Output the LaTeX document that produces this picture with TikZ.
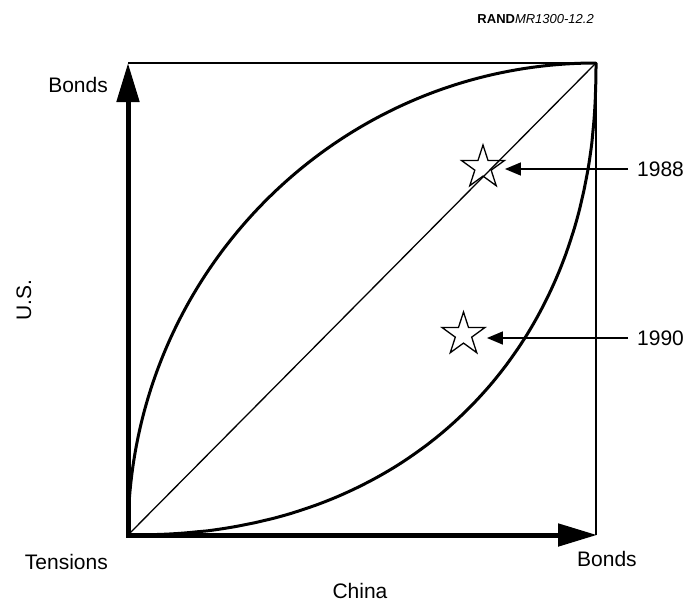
\documentclass[tikz,border=0pt]{standalone}
\usepackage{fontspec}
\setmainfont{Liberation Sans}
\usetikzlibrary{arrows.meta, shapes.geometric}

\begin{document}
\begin{tikzpicture}[x=1pt,y=-1pt,
  lbl/.style={inner sep=0pt, font=\fontsize{21}{25}\selectfont},
  axis/.style={line width=5, line cap=rect, -{Triangle[length=39pt,width=22pt]}},
  curve/.style={line width=3, line join=round},
  pointer/.style={line width=1.5, -{Triangle[length=16pt,width=13pt]}},
  markstar/.style={star, star points=5, star point ratio=2.618, minimum size=45pt, inner sep=0pt, draw, line width=1.3}
]
\useasboundingbox (0,0) rectangle (686,603);

\coordinate (O) at (128,535);
\coordinate (TL) at (128,63);
\coordinate (TR) at (596,63);
\coordinate (BR) at (597,535);

% frame and diagonal
\draw[line width=2] (TL) -- (TR) -- (596,535);
\draw[line width=1.3] (O) -- (TR);

% the two bounding curves
\draw[curve] (O) arc[start angle=180, end angle=270, x radius=468, y radius=472];
\draw[curve] (O) -- plot[domain=0.1:89.9, samples=80, smooth, variable=\t]
  ({128+468*sin(\t)^0.909}, {63+472*cos(\t)^0.909}) -- (TR);

% axes
\draw[axis] (O) -- (TL);
\draw[axis] (O) -- (BR);

% stars and years
\node[markstar] (s88) at (483,167.5) {};
\node[markstar] (s90) at (463.5,334.5) {};
\node[lbl, anchor=west, inner xsep=9pt] (y88) at (628,169) {1988};
\node[lbl, anchor=west, inner xsep=9pt] (y90) at (628,338) {1990};
\draw[pointer, shorten >=9pt] (y88.west) -- (s88.east |- y88.west);
\draw[pointer, shorten >=10.5pt] (y90.west) -- (s90.east |- y90.west);

% axis labels
\node[lbl, anchor=east] (ybonds) at (108,85) {Bonds};
\node[lbl, anchor=east] (tens) at (108,562) {Tensions};
\node[lbl, anchor=west] (xbonds) at (577,559) {Bonds};
\node[lbl] (xname) at (360,591) {China};
\node[lbl, rotate=90] (yname) at (24,300) {U.S.};
\node[inner sep=0pt, anchor=base east, font=\fontsize{13}{15}\selectfont] (fig) at (594,23) {\textbf{RAND}\textit{MR1300-12.2}};
\end{tikzpicture}
\end{document}
